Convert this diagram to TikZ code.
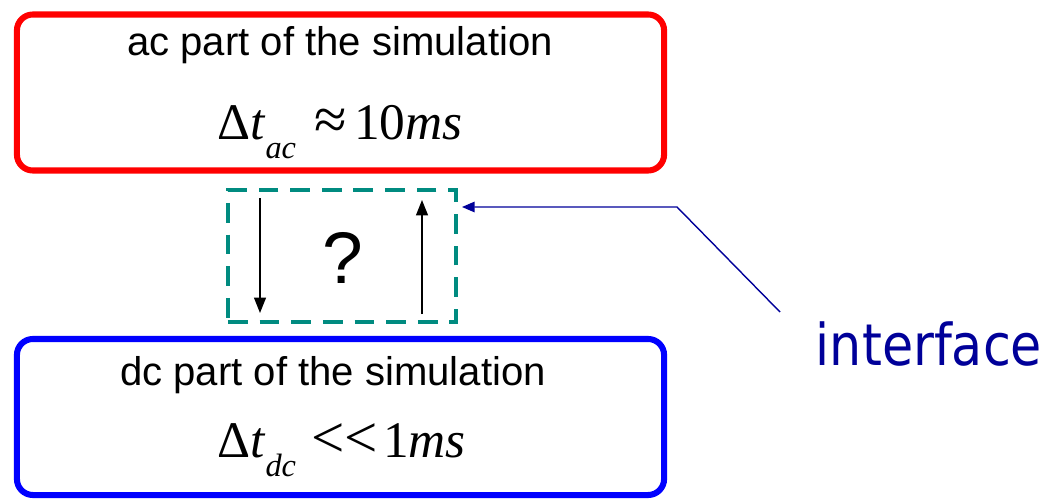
\documentclass[tikz,border=0pt]{standalone}
\usepackage{fontspec}
\setmainfont{Liberation Sans}
\newfontfamily\stepfont{Liberation Serif}
\newfontfamily\ifacefont{DejaVu Sans}[FakeStretch=0.88]
\usetikzlibrary{arrows.meta,positioning,calc}
\definecolor{acred}{HTML}{FF0000}
\definecolor{dcblue}{HTML}{0000FF}
\definecolor{ifteal}{HTML}{008B80}
\definecolor{ifnavy}{HTML}{000099}
\tikzset{
  partbox/.style={draw,line width=4.3pt,rounded corners=4mm,minimum width=16.175cm,minimum height=3.9cm,inner sep=0pt},
  titletext/.style={font=\fontsize{28.5}{34}\selectfont,inner sep=0pt},
  steptext/.style={font=\stepfont\fontsize{36.5}{44}\selectfont,inner sep=0pt,anchor=base west},
  ifacebox/.style={draw=ifteal,line width=2.2pt,dash pattern=on 14pt off 8.5pt,minimum width=5.7cm,minimum height=3.3cm,inner sep=0pt},
  flowarrow/.style={-{Triangle[length=11pt,width=8.5pt]},line width=1.1pt,black},
  callout/.style={-{Triangle[length=9pt,width=7.5pt]},line width=1pt,ifnavy}
}
\newcommand{\subtxt}[1]{\raisebox{-14pt}{\fontsize{23}{23}\selectfont\itshape #1}}
\newcommand{\reltxt}[1]{{\fontsize{42}{42}\selectfont #1}}

\begin{document}
\begin{tikzpicture}[x=0.025cm,y=-0.025cm]
  \useasboundingbox (0,0) rectangle (1044,499);
  % the two parts of the simulation
  \node[partbox,draw=acred] (ac) at (340.5,92.5) {};
  \node[titletext] (actitle) at (340,45) {ac part of the simulation};
  \node[steptext] (acstep) at (217,139) {Δ\textit{t}\subtxt{ac}\hspace{0.35em}\reltxt{≈}\hspace{0.15em}10\textit{ms}};

  \node[partbox,draw=dcblue] (dc) at (340.5,417) {};
  \node[titletext] (dctitle) at (333,375) {dc part of the simulation};
  \node[steptext] (dcstep) at (217,457) {Δ\textit{t}\subtxt{dc}\hspace{0.3em}\reltxt{<<}\hspace{0.1em}1\textit{ms}};

  % interface between them
  \node[ifacebox] (ifc) at (342,256) {};
  \node[font=\fontsize{52}{56}\selectfont] (query) at (343,258) {?};
  \coordinate (downtop) at (260,198);
  \coordinate (downend) at (260,313);
  \coordinate (uptop) at (422,200);
  \coordinate (upend) at (422,314);
  \draw[flowarrow] (downtop) -- (downend);
  \draw[flowarrow] (upend) -- (uptop);

  \node[font=\ifacefont\fontsize{41}{48}\selectfont,text=ifnavy,anchor=base,inner sep=0pt] (iface) at (929,365) {interface};
  \coordinate (callstart) at (780,312);
  \coordinate (callbend) at (677,207);
  \coordinate (calltip) at (462,207);
  \draw[callout] (callstart) -- (callbend) -- (calltip);
\end{tikzpicture}
\end{document}
